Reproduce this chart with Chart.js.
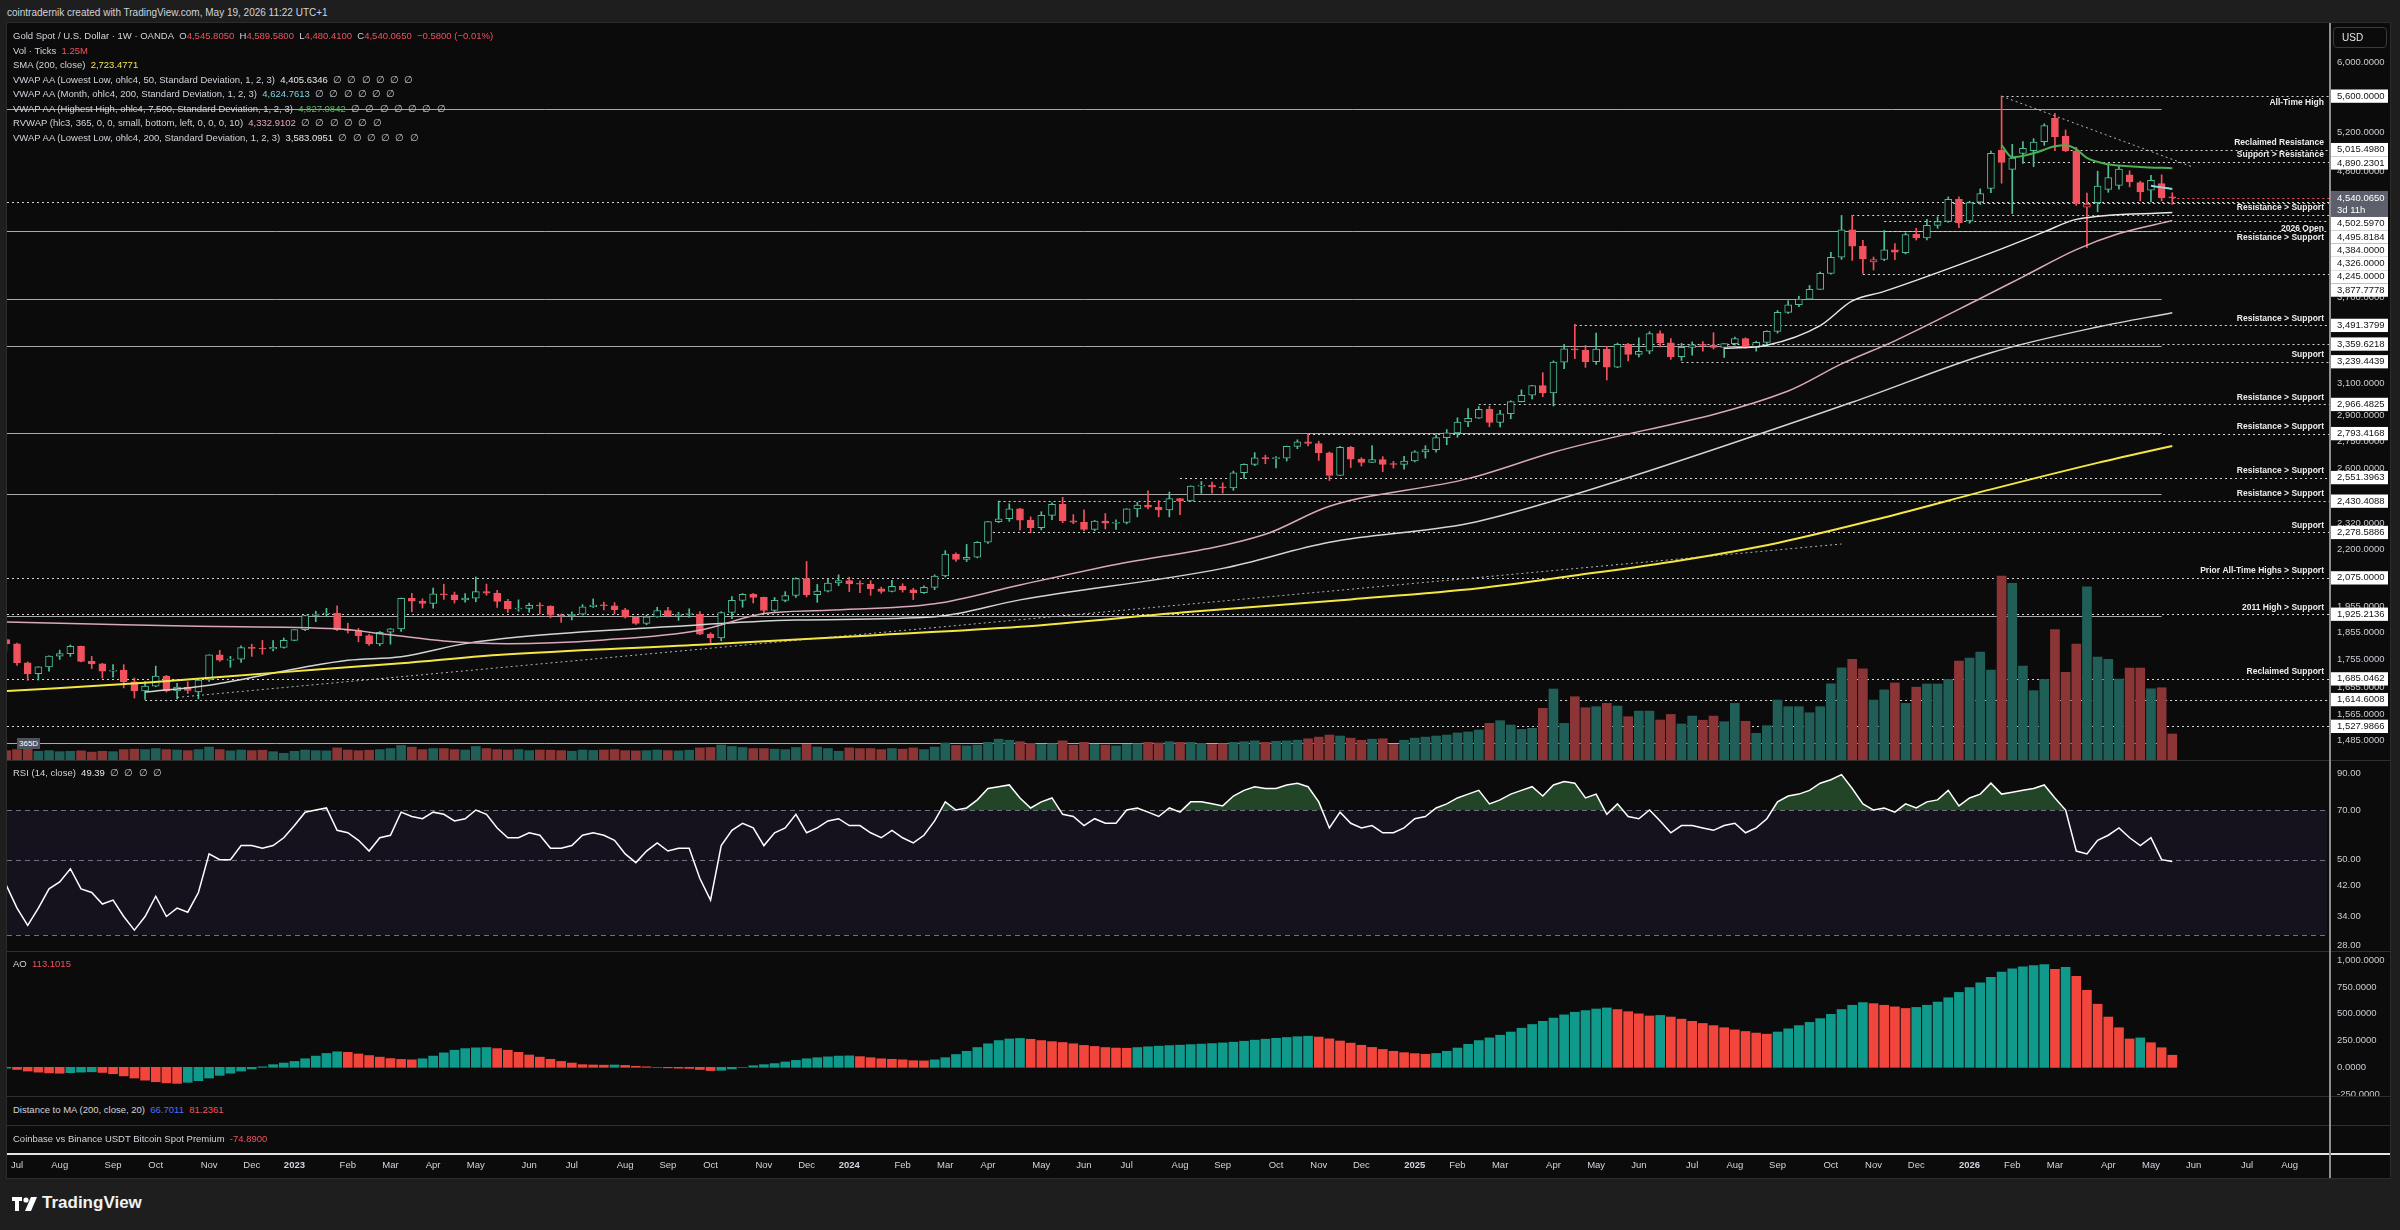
<!DOCTYPE html>
<html>
<head>
<meta charset="utf-8">
<title>Gold Spot / U.S. Dollar · 1W · OANDA</title>
<script src="https://cdn.jsdelivr.net/npm/chart.js@4.4.1/dist/chart.umd.min.js"></script>
<style>
  html, body { margin: 0; padding: 0; width: 2400px; height: 1230px; overflow: hidden; background: #1e1e1e; font-family: 'Liberation Sans', Arial, sans-serif; }
  #frame { position: absolute; left: 7px; top: 23px; width: 2383px; height: 1155px; background: #0b0b0b; outline: 1px solid #2c2c2c; }
  canvas { position: absolute; left: 7px; z-index: 1; }
  .sep { position: absolute; left: 7px; width: 2383px; height: 1px; background: #2e2e2e; z-index: 2; }
  .txt { position: absolute; left: 13px; font-size: 9.5px; line-height: 14px; color: #d1d4dc; white-space: nowrap; z-index: 3; }
  .r { color: #f2525e; }
  .w { color: #e6e6e6; }
  .n { color: #c4c7ce; }
</style>
</head>
<body>
<div id="frame"></div>

<div class="txt" style="left:7px;top:6px;font-size:10px;">cointradernik created with TradingView.com, May 19, 2026 11:22 UTC+1</div>
<div class="txt" style="top:29px;">Gold Spot / U.S. Dollar · 1W · OANDA&nbsp;&nbsp;O<span class="r">4,545.8050</span>&nbsp;&nbsp;H<span class="r">4,589.5800</span>&nbsp;&nbsp;L<span class="r">4,480.4100</span>&nbsp;&nbsp;C<span class="r">4,540.0650</span>&nbsp;&nbsp;<span class="r">−0.5800 (−0.01%)</span></div>
<div class="txt" style="top:44px;">Vol · Ticks&nbsp;&nbsp;<span class="r">1.25M</span></div>
<div class="txt" style="top:58px;">SMA (200, close)&nbsp;&nbsp;<span style="color:#f2e24f">2,723.4771</span></div>
<div class="txt" style="top:73px;">VWAP AA (Lowest Low, ohlc4, 50, Standard Deviation, 1, 2, 3)&nbsp;&nbsp;<span class="w">4,405.6346</span>&nbsp;&nbsp;<span class="n">∅&nbsp;&nbsp;∅&nbsp;&nbsp;∅&nbsp;&nbsp;∅&nbsp;&nbsp;∅&nbsp;&nbsp;∅</span></div>
<div class="txt" style="top:87px;">VWAP AA (Month, ohlc4, 200, Standard Deviation, 1, 2, 3)&nbsp;&nbsp;<span style="color:#7fd3e0">4,624.7613</span>&nbsp;&nbsp;<span class="n">∅&nbsp;&nbsp;∅&nbsp;&nbsp;∅&nbsp;&nbsp;∅&nbsp;&nbsp;∅&nbsp;&nbsp;∅</span></div>
<div class="txt" style="top:102px;">VWAP AA (Highest High, ohlc4, 7,500, Standard Deviation, 1, 2, 3)&nbsp;&nbsp;<span style="color:#5fb563">4,827.0842</span>&nbsp;&nbsp;<span class="n">∅&nbsp;&nbsp;∅&nbsp;&nbsp;∅&nbsp;&nbsp;∅&nbsp;&nbsp;∅&nbsp;&nbsp;∅&nbsp;&nbsp;∅</span></div>
<div class="txt" style="top:116px;">RVWAP (hlc3, 365, 0, 0, small, bottom, left, 0, 0, 0, 10)&nbsp;&nbsp;<span style="color:#e0a6bb">4,332.9102</span>&nbsp;&nbsp;<span class="n">∅&nbsp;&nbsp;∅&nbsp;&nbsp;∅&nbsp;&nbsp;∅&nbsp;&nbsp;∅&nbsp;&nbsp;∅</span></div>
<div class="txt" style="top:131px;">VWAP AA (Lowest Low, ohlc4, 200, Standard Deviation, 1, 2, 3)&nbsp;&nbsp;<span class="w">3,583.0951</span>&nbsp;&nbsp;<span class="n">∅&nbsp;&nbsp;∅&nbsp;&nbsp;∅&nbsp;&nbsp;∅&nbsp;&nbsp;∅&nbsp;&nbsp;∅</span></div>

<div class="txt" style="left:2333px;top:27px;width:44px;height:19px;line-height:19px;padding-left:8px;border:1px solid #3b3b3b;border-radius:4px;font-size:10px;color:#e6e6e6;">USD</div>
<div class="txt" style="left:17px;top:738px;line-height:11px;font-size:8px;padding:0 2px;background:#50535e;color:#fff;">365D</div>

<div class="txt" style="top:766px;">RSI (14, close)&nbsp;&nbsp;<span class="w">49.39</span>&nbsp;&nbsp;<span class="n">∅&nbsp;&nbsp;∅&nbsp;&nbsp;∅&nbsp;&nbsp;∅</span></div>
<div class="txt" style="top:957px;">AO&nbsp;&nbsp;<span class="r">113.1015</span></div>
<div class="txt" style="top:1103px;">Distance to MA (200, close, 20)&nbsp;&nbsp;<span style="color:#4f6ef7">66.7011</span>&nbsp;&nbsp;<span class="r">81.2361</span></div>
<div class="txt" style="top:1132px;">Coinbase vs Binance USDT Bitcoin Spot Premium&nbsp;&nbsp;<span class="r">-74.8900</span></div>

<canvas id="cMain" width="2383" height="737" style="top:23px;"></canvas>
<canvas id="cRsi" width="2383" height="191" style="top:760px;"></canvas>
<canvas id="cAo" width="2383" height="145" style="top:951px;"></canvas>
<canvas id="cTime" width="2383" height="53" style="top:1125px;"></canvas>

<div class="sep" style="top:760px;"></div>
<div class="sep" style="top:951px;"></div>
<div class="sep" style="top:1096px;"></div>
<div class="sep" style="top:1125px;"></div>
<div class="sep" style="top:1153px;height:2px;background:#e4e4e4;"></div>
<div style="position:absolute;left:2329px;top:23px;width:2px;height:1155px;background:#8f8f8f;z-index:2;"></div>

<svg style="position:absolute;left:12px;top:1195px;" width="30" height="18">
  <path d="M0 2h10v4H7v10H3V6H0z" fill="#fff"/>
  <circle cx="14" cy="5" r="2.6" fill="#fff"/>
  <path d="M19 2h6l-6 14h-6z" fill="#fff"/>
</svg>
<div class="txt" style="left:42px;top:1192px;font-size:17px;line-height:22px;font-weight:bold;color:#f2f2f2;">TradingView</div>

<script>
// Weekly bars, week 0 = Jul 4 2022, first visible bar is week -1
var FIRST_WEEK = -1;

var opens = [1827,
  1811,1742,1703,1727,1766,1775,1802,1747,1738,1712,
  1716,1675,1644,1660,1695,1644,1657,1640,1681,1771,
  1751,1755,1798,1794,1792,1798,1824,1865,1920,1926,
  1929,1865,1862,1842,1811,1855,1868,1989,1978,1969,
  2008,2004,1983,1990,2017,2011,1977,1946,1948,1961,
  1958,1921,1919,1925,1955,1962,1959,1943,1914,1889,
  1915,1940,1919,1924,1925,1848,1833,1932,1981,2006,
  1993,1940,1981,2001,2072,2004,2019,2053,2063,2050,
  2048,2029,2018,2039,2024,2013,2035,2083,2179,2155,
  2165,2233,2330,2344,2392,2337,2301,2360,2415,2334,
  2327,2293,2333,2322,2326,2392,2411,2400,2387,2443,
  2431,2507,2512,2503,2497,2577,2622,2658,2653,2656,
  2721,2747,2737,2685,2563,2716,2650,2633,2648,2622,
  2621,2640,2690,2703,2770,2798,2861,2883,2936,2858,
  2910,2984,3023,3084,3037,3237,3327,3319,3240,3325,
  3204,3357,3289,3310,3433,3368,3274,3337,3355,3350,
  3337,3363,3398,3336,3371,3448,3586,3643,3685,3760,
  3886,4018,4251,4110,3980,3999,4080,4055,4212,4182,
  4290,4325,4528,4330,4500,4630,5010,4815,4977,5004,
  5098,5349,5158,5004,4455,4497,4621,4660,4762,4686,
  4613,4676,4545.805];

var highs = [1830,
  1814,1745,1728,1767,1788,1807,1803,1765,1740,1735,
  1735,1688,1676,1730,1697,1670,1675,1682,1771,1787,
  1765,1804,1810,1824,1823,1833,1865,1921,1937,1949,
  1959,1890,1870,1847,1858,1870,1990,2010,1987,2032,
  2048,2015,2009,2079,2048,2022,1985,1983,1970,1971,
  1959,1926,1935,1964,1987,1974,1972,1949,1916,1922,
  1953,1953,1933,1947,1936,1853,1935,1997,2009,2010,
  1994,1993,2017,2075,2146,2047,2070,2088,2078,2062,
  2063,2036,2065,2050,2031,2041,2088,2195,2185,2223,
  2236,2330,2431,2417,2395,2353,2378,2422,2450,2364,
  2387,2336,2369,2339,2393,2424,2483,2433,2477,2445,
  2508,2531,2528,2524,2586,2625,2686,2672,2664,2722,
  2758,2790,2750,2690,2721,2721,2658,2726,2664,2638,
  2665,2697,2725,2786,2817,2886,2942,2954,2956,2930,
  2989,3057,3086,3167,3245,3357,3500,3350,3437,3344,
  3366,3365,3403,3446,3452,3398,3365,3375,3377,3439,
  3363,3409,3403,3379,3453,3600,3674,3707,3791,3897,
  4059,4379,4381,4160,4020,4245,4132,4225,4265,4344,
  4367,4550,4550,4510,4626,5000,5600,5070,5100,5130,
  5290,5404,5222,5040,4587,4797,4866,4851,4802,4700,
  4756,4762,4589.58];

var lows = [1784,
  1732,1680,1681,1712,1754,1765,1745,1721,1688,1691,
  1654,1620,1615,1658,1640,1617,1635,1617,1676,1747,
  1726,1743,1765,1773,1785,1795,1823,1861,1896,1917,
  1861,1852,1819,1805,1804,1810,1858,1935,1950,1949,
  1985,1970,1974,1975,2002,1952,1932,1937,1933,1925,
  1911,1893,1903,1922,1952,1942,1926,1910,1885,1884,
  1913,1915,1901,1913,1846,1810,1823,1908,1953,1970,
  1931,1932,1975,1993,1995,1973,2016,2042,2017,2013,
  2002,2010,2016,2015,1984,2010,2025,2079,2146,2146,
  2162,2228,2325,2331,2291,2277,2291,2340,2325,2320,
  2286,2286,2295,2293,2319,2353,2392,2353,2353,2364,
  2430,2470,2471,2471,2485,2547,2615,2625,2603,2640,
  2708,2724,2643,2536,2563,2605,2613,2632,2583,2602,
  2596,2635,2656,2688,2730,2772,2833,2882,2833,2832,
  2880,2982,3000,3015,2957,3194,3260,3202,3222,3120,
  3200,3245,3271,3293,3340,3255,3248,3283,3310,3325,
  3268,3352,3330,3311,3350,3436,3578,3628,3685,3760,
  3880,4000,3992,3886,3914,3990,3998,4045,4163,4163,
  4265,4318,4270,4310,4480,4590,4680,4396,4874,4842,
  5060,5004,4994,4470,4098,4412,4593,4624,4645,4512,
  4503,4512,4480.41];

var closes = [1811,
  1742,1703,1727,1766,1775,1802,1747,1738,1712,1716,
  1675,1644,1660,1695,1644,1657,1645,1681,1771,1751,
  1755,1797,1794,1792,1798,1824,1865,1920,1926,1929,
  1865,1862,1842,1811,1855,1868,1989,1978,1969,2008,
  2004,1983,1990,2017,2011,1977,1946,1948,1961,1958,
  1921,1919,1925,1955,1962,1959,1943,1914,1889,1915,
  1940,1919,1924,1925,1848,1833,1932,1981,2006,1993,
  1940,1981,2001,2072,2004,2019,2053,2063,2049,2048,
  2029,2018,2039,2024,2013,2035,2083,2179,2155,2165,
  2233,2330,2344,2392,2337,2301,2360,2415,2334,2327,
  2293,2333,2322,2326,2392,2411,2400,2387,2443,2431,
  2507,2512,2503,2497,2577,2622,2658,2653,2656,2721,
  2747,2737,2685,2563,2716,2650,2633,2648,2622,2621,
  2640,2690,2703,2770,2798,2861,2883,2936,2858,2910,
  2984,3023,3084,3037,3237,3327,3319,3240,3325,3204,
  3357,3289,3310,3433,3368,3274,3337,3355,3350,3337,
  3363,3398,3336,3371,3448,3586,3643,3685,3760,3886,
  4018,4251,4110,4004,3999,4080,4060,4210,4182,4290,
  4325,4528,4315,4497,4580,4977,4885,4930,5028,5093,
  5269,5151,5004,4490,4482,4653,4734,4818,4692,4597,
  4709,4540.645,4540.065];

// tick volume, millions
var volumes = [0.45,
  0.5,0.55,0.42,0.45,0.4,0.42,0.44,0.38,0.42,0.4,
  0.5,0.52,0.5,0.55,0.5,0.48,0.45,0.5,0.62,0.5,
  0.44,0.48,0.45,0.47,0.4,0.32,0.42,0.48,0.45,0.44,
  0.58,0.48,0.45,0.47,0.5,0.55,0.7,0.62,0.5,0.55,
  0.55,0.5,0.48,0.65,0.55,0.5,0.48,0.5,0.45,0.48,
  0.47,0.45,0.42,0.48,0.46,0.48,0.5,0.45,0.44,0.45,
  0.48,0.45,0.44,0.47,0.58,0.6,0.72,0.65,0.6,0.55,
  0.55,0.52,0.5,0.6,0.75,0.62,0.55,0.42,0.58,0.55,
  0.55,0.5,0.55,0.52,0.58,0.5,0.62,0.82,0.7,0.68,
  0.72,0.85,1.0,0.95,0.88,0.8,0.75,0.78,0.92,0.72,
  0.85,0.75,0.72,0.68,0.75,0.78,0.85,0.82,0.88,0.85,
  0.85,0.8,0.75,0.78,0.85,0.88,0.92,0.85,0.9,0.92,
  0.95,1.02,1.1,1.2,1.15,1.05,0.95,1.0,1.02,0.75,
  0.95,1.05,1.1,1.15,1.2,1.3,1.35,1.44,1.76,1.89,
  1.68,1.47,1.52,2.48,3.41,1.76,3.04,2.51,2.56,2.72,
  2.59,2.08,2.35,2.35,1.92,2.19,1.73,2.11,1.91,2.11,
  1.84,2.72,1.86,1.28,1.65,2.88,2.56,2.56,2.27,2.56,
  3.66,4.43,4.83,4.38,2.88,3.37,3.70,2.72,3.50,3.65,
  3.65,3.87,4.75,4.90,5.18,4.32,8.83,8.48,4.51,3.33,
  3.87,6.27,4.21,5.57,8.32,4.94,4.83,3.89,4.42,4.42,
  3.42,3.47,1.25];

var rsiValues = [42,
  36,32,36,41,43,47,41,40,37,38,
  34,31,34,39,34,36,35,40,52,50,
  50,55,55,54,55,58,63,69,70,71,
  61,60,57,53,58,59,69,67,66,69,
  68,65,66,70,68,62,58,58,60,59,
  54,54,55,59,60,59,57,52,49,53,
  56,53,54,54,44,38,55,61,64,62,
  55,60,62,68,60,62,65,66,63,63,
  60,58,61,58,56,59,65,74,70,71,
  75,81,82,83,76,71,74,76,68,67,
  63,66,64,64,70,71,69,67,71,69,
  74,74,73,72,77,80,82,81,81,83,
  84,82,74,62,69,64,62,63,60,60,
  62,66,67,71,73,76,78,80,73,75,
  78,80,82,77,83,85,84,76,78,68,
  73,67,66,70,65,60,63,63,62,61,
  63,64,60,62,66,74,77,78,80,84,
  86,89,81,73,70,71,69,73,71,74,
  75,80,72,76,78,84,78,79,80,81,
  83,76,70,53,52,57,59,62,58,55,
  58,50,49.39];

var aoValues = [-8,
  -20,-35,-45,-52,-55,-50,-45,-42,-48,-60,
  -80,-100,-120,-135,-145,-150,-140,-125,-100,-75,
  -55,-35,-15,5,25,40,55,80,105,130,
  145,140,125,110,95,82,74,70,80,105,
  135,160,175,182,185,175,160,140,115,95,
  75,55,40,25,22,20,22,18,10,5,
  0,-5,-8,-10,-20,-30,-28,-15,0,15,
  25,35,50,65,80,90,98,105,107,100,
  90,80,75,70,62,60,70,90,120,150,
  185,220,250,265,270,262,250,240,232,220,
  205,195,185,180,178,185,192,198,203,207,
  212,217,222,228,235,244,254,263,271,279,
  286,291,283,266,246,226,206,186,167,150,
  137,128,122,130,150,180,215,250,275,300,
  330,365,400,430,460,490,515,530,545,555,
  540,520,500,480,485,470,450,430,410,390,
  370,350,335,320,310,330,360,390,420,455,
  495,540,580,605,595,580,565,550,560,580,
  610,650,700,745,790,840,890,920,940,950,
  960,915,935,850,720,590,470,370,265,275,
  230,183,113.1015];

// indicator lines read at chosen weeks
var smaX = [-1, 12, 24, 36, 45, 64, 80, 94, 110, 125, 137, 146, 156, 165, 175, 185, 195, 202];
var smaY = [1643, 1672, 1706, 1740, 1770, 1808, 1843, 1876, 1935, 1985, 2031, 2085, 2152, 2230, 2350, 2490, 2630, 2723.4771];
var rvwapX = [-1, 8, 17, 30, 35, 40, 46, 55, 64, 70, 76, 86, 94, 102, 117, 123, 136, 144, 166, 171, 176, 184, 188, 193, 197, 202];
var rvwapY = [1895, 1886, 1878, 1868, 1845, 1822, 1812, 1826, 1863, 1928, 1941, 1967, 2045, 2124, 2270, 2405, 2546, 2688, 3050, 3225, 3382, 3690, 3859, 4081, 4219, 4332.9102];
var ll200X = [12, 18, 27, 31, 36, 42, 47, 61, 73, 86, 94, 113, 123, 136, 144, 172, 185, 195, 202];
var ll200Y = [1640, 1663, 1727, 1751, 1764, 1812, 1837, 1876, 1902, 1915, 1983, 2116, 2233, 2321, 2432, 2980, 3300, 3480, 3583.0951];
var ll50X = [160, 164, 169, 172, 175, 185, 190, 193, 202];
var ll50Y = [3330, 3352, 3490, 3672, 3745, 4054, 4233, 4344, 4405.6346];
var hhX = [186, 187, 189, 191, 192, 193, 194, 196, 199, 202];
var hhY = [5062, 4937, 4978, 5050, 5062, 5020, 4930, 4866, 4840, 4827.0842];
var monthX = [200, 201, 202];
var monthY = [4655, 4640, 4624.7613];
var trendUpX = [15, 171], trendUpY = [1622, 2225];
var trendDownX = [186, 204], trendDownY = [5600, 4836];

// horizontal levels
var levelValues = [5600, 5015.498, 4890.2301, 4502.597, 4495.8184, 4384, 4326, 4245, 3877.7778, 3491.3799, 3359.6218, 3239.4439, 2966.4825, 2793.4168, 2551.3963, 2430.4088, 2278.5886, 2075, 1925.2136, 1685.0462, 1614.6008, 1527.9866];
var levelStart = [186, 192, 188, -2, 181, 172, 175, 175, 173, 146, 150, 156, 137, 121, 109, 92, 91, -2, -2, -2, 12, -2];
var levelNames = ['All-Time High', 'Reclaimed Resistance', 'Support > Resistance', '', '', 'Resistance > Support', '2026 Open', 'Resistance > Support', '', 'Resistance > Support', '', 'Support', 'Resistance > Support', 'Resistance > Support', 'Resistance > Support', 'Resistance > Support', 'Support', 'Prior All-Time Highs > Support', '2011 High > Support', 'Reclaimed Support', '', ''];
var levelNameSide = [1, -1, -1, 0, 0, -1, 1, 1, 0, -1, 0, -1, -1, -1, -1, -1, -1, -1, -1, -1, 0, 0];
var solidLevels = [5449, 4241, 3683, 3349, 2798, 2465, 1920, 1475];
var solidEndWeek = 201;
var countdownText = '3d 11h';

// axis ticks
var priceTicks = [6000, 5200, 4800, 3700, 3100, 2900, 2750, 2600, 2320, 2200, 1955, 1855, 1755, 1655, 1565, 1485];
var rsiTicks = [90, 70, 50, 42, 34, 28];
var rsiBandLevels = [70, 50, 30];
var aoTicks = [1000, 750, 500, 250, 0, -250];
var monthTickWeeks = [0,4,9,13,18,22,26,31,35,39,43,48,52,57,61,65,70,74,78,83,87,91,96,100,104,109,113,118,122,126,131,135,139,144,148,152,157,161,165,170,174,178,183,187,191,196,200,204,209,213];
var monthTickLabels = ['Jul','Aug','Sep','Oct','Nov','Dec','2023','Feb','Mar','Apr','May','Jun','Jul','Aug','Sep','Oct','Nov','Dec','2024','Feb','Mar','Apr','May','Jun','Jul','Aug','Sep','Oct','Nov','Dec','2025','Feb','Mar','Apr','May','Jun','Jul','Aug','Sep','Oct','Nov','Dec','2026','Feb','Mar','Apr','May','Jun','Jul','Aug'];


Chart.defaults.font.family = "'Liberation Sans', Arial, sans-serif";
Chart.defaults.font.size = 9.5;
Chart.defaults.color = '#d1d4dc';
Chart.defaults.animation = false;
Chart.defaults.plugins.legend.display = false;
Chart.defaults.plugins.tooltip.enabled = false;

var X_MIN = -0.94, X_MAX = 216.78;
var UP = '#4fbf98', DOWN = '#f2525e', BG = '#0b0b0b';

var weeks = opens.map(function (_, k) { return FIRST_WEEK + k; });
var lastClose = closes[closes.length - 1];

// hollow candles: colour vs previous close, hollow when close > open
var candleColor = closes.map(function (c, k) {
    var ref = k === 0 ? opens[k] : closes[k - 1];
    return c >= ref ? UP : DOWN;
});
var bodyFill = closes.map(function (c, k) { return c > opens[k] ? BG : candleColor[k]; });
var volColor = closes.map(function (c, k) { return c >= opens[k] ? '#1f5f58' : '#8b3536'; });
var aoColor = aoValues.map(function (v, k) { return (k === 0 || v >= aoValues[k - 1]) ? '#0f9a8b' : '#f2463c'; });

function fmt4(v) {
    return Number(v).toLocaleString('en-US', { minimumFractionDigits: 4, maximumFractionDigits: 4 });
}
function pts(xs, ys) {
    return xs.map(function (x, k) { return { x: x, y: ys[k] }; });
}
function hiddenX() {
    return { type: 'linear', display: false, min: X_MIN, max: X_MAX, offset: false };
}
function fixedRight(s) {
    s.width = 60; s.paddingTop = 0; s.paddingBottom = 0;
}
function lineDs(xs, ys, color, width, order, extra) {
    return Object.assign({
        type: 'line', data: pts(xs, ys), yAxisID: 'y',
        borderColor: color, borderWidth: width, pointRadius: 0,
        cubicInterpolationMode: 'monotone', order: order
    }, extra || {});
}

var levelsPlugin = {
    id: 'levels',
    beforeDatasetsDraw: function (chart) {
        var ctx = chart.ctx, a = chart.chartArea, x = chart.scales.x, y = chart.scales.y;
        ctx.save();
        ctx.beginPath();
        ctx.rect(a.left, a.top, a.right - a.left, a.bottom - a.top);
        ctx.clip();
        ctx.lineWidth = 1;
        ctx.strokeStyle = '#a9a9a9';
        var xEnd = x.getPixelForValue(solidEndWeek);
        solidLevels.forEach(function (v) {
            var py = Math.round(y.getPixelForValue(v)) + 0.5;
            ctx.beginPath(); ctx.moveTo(a.left, py); ctx.lineTo(xEnd, py); ctx.stroke();
        });
        ctx.setLineDash([2, 3]);
        ctx.strokeStyle = '#d6d6d6';
        levelValues.forEach(function (v, k) {
            var py = Math.round(y.getPixelForValue(v)) + 0.5;
            var sx = Math.max(a.left, x.getPixelForValue(levelStart[k]));
            ctx.beginPath(); ctx.moveTo(sx, py); ctx.lineTo(a.right, py); ctx.stroke();
        });
        // current price line
        ctx.strokeStyle = DOWN;
        var pc = Math.round(y.getPixelForValue(lastClose)) + 0.5;
        ctx.beginPath(); ctx.moveTo(x.getPixelForValue(weeks[weeks.length - 1]), pc); ctx.lineTo(a.right, pc); ctx.stroke();
        ctx.restore();
    },
    afterDatasetsDraw: function (chart) {
        var ctx = chart.ctx, a = chart.chartArea, y = chart.scales.y;
        ctx.save();
        ctx.font = "bold 8.5px 'Liberation Sans', Arial, sans-serif";
        ctx.textAlign = 'right';
        ctx.textBaseline = 'middle';
        ctx.fillStyle = '#eeeeee';
        levelNames.forEach(function (t, k) {
            if (!t) return;
            var py = y.getPixelForValue(levelValues[k]);
            ctx.fillText(t, a.right - 6, py + levelNameSide[k] * 7);
        });
        ctx.restore();
    },
    afterDraw: function (chart) {
        // price-axis labels of the levels, pushed apart like the original
        var ctx = chart.ctx, a = chart.chartArea, y = chart.scales.y;
        var items = levelValues.map(function (v) { return { v: v, py: y.getPixelForValue(v), h: 13.3, cur: false }; });
        items.push({ v: lastClose, py: y.getPixelForValue(lastClose), h: 26, cur: true });
        items.sort(function (p, q) { return p.py - q.py; });
        var bottom = -1e9;
        ctx.save();
        ctx.font = "9.5px 'Liberation Sans', Arial, sans-serif";
        ctx.textAlign = 'left';
        ctx.textBaseline = 'middle';
        items.forEach(function (it) {
            var top = it.cur ? it.py - 7 : it.py - it.h / 2;
            if (top < bottom) top = bottom;
            bottom = top + it.h;
            ctx.fillStyle = it.cur ? '#5d606b' : '#ffffff';
            ctx.fillRect(a.right + 1, top, 57, it.h);
            ctx.fillStyle = it.cur ? '#ffffff' : '#131313';
            ctx.fillText(fmt4(it.v), a.right + 7, top + (it.cur ? 7 : it.h / 2));
            if (it.cur) ctx.fillText(countdownText, a.right + 7, top + 19);
        });
        ctx.restore();
    }
};

var rsiBand = {
    id: 'rsiBand',
    beforeDatasetsDraw: function (chart) {
        var ctx = chart.ctx, a = chart.chartArea, y = chart.scales.y;
        var yTop = y.getPixelForValue(rsiBandLevels[0]), yBot = y.getPixelForValue(rsiBandLevels[2]);
        ctx.save();
        ctx.fillStyle = 'rgba(126,87,194,0.10)';
        ctx.fillRect(a.left, yTop, a.right - a.left - 3, yBot - yTop);
        ctx.setLineDash([5, 4]);
        ctx.strokeStyle = '#6f727c';
        ctx.lineWidth = 1;
        rsiBandLevels.forEach(function (v) {
            var py = Math.round(y.getPixelForValue(v)) + 0.5;
            ctx.beginPath(); ctx.moveTo(a.left, py); ctx.lineTo(a.right - 3, py); ctx.stroke();
        });
        ctx.restore();
    }
};

// Main pane: candles, volume, averages, levels
new Chart(document.getElementById('cMain'), {
    type: 'bar',
    data: {
        datasets: [
            { type: 'bar', data: weeks.map(function (w, k) { return { x: w, y: volumes[k] }; }), yAxisID: 'yv',
              backgroundColor: volColor, barThickness: 9, grouped: false, order: 20 },
            { type: 'bar', data: weeks.map(function (w, k) { return { x: w, y: [lows[k], highs[k]] }; }), yAxisID: 'y',
              backgroundColor: candleColor, barThickness: 1, grouped: false, order: 19 },
            { type: 'bar', data: weeks.map(function (w, k) { return { x: w, y: [opens[k], closes[k]] }; }), yAxisID: 'y',
              backgroundColor: bodyFill, borderColor: candleColor, borderWidth: 1, borderSkipped: false,
              barThickness: 7, minBarLength: 1, grouped: false, order: 18 },
            lineDs(trendUpX, trendUpY, '#b5b5b5', 1, 9, { borderDash: [2, 3], cubicInterpolationMode: 'default', tension: 0 }),
            lineDs(trendDownX, trendDownY, '#b5b5b5', 1, 9, { borderDash: [2, 3], cubicInterpolationMode: 'default', tension: 0 }),
            lineDs(ll200X, ll200Y, '#d4d4d4', 1.5, 6),
            lineDs(rvwapX, rvwapY, '#d9a8ba', 1.5, 5),
            lineDs(ll50X, ll50Y, '#e6e6e6', 1.5, 4),
            lineDs(smaX, smaY, '#f5e643', 2, 3),
            lineDs(hhX, hhY, '#4caf50', 2, 2),
            lineDs(monthX, monthY, '#80deea', 2, 1)
        ]
    },
    options: {
        responsive: false,
        layout: { padding: 0 },
        scales: {
            x: hiddenX(),
            y: {
                type: 'logarithmic', position: 'right', min: 1425.6, max: 6511,
                grid: { display: false, drawTicks: false }, border: { display: false },
                afterFit: fixedRight,
                afterBuildTicks: function (s) { s.ticks = priceTicks.map(function (v) { return { value: v }; }); },
                ticks: { autoSkip: false, padding: 7, color: '#c9ccd3', callback: function (v) { return fmt4(v); } }
            },
            yv: { type: 'linear', display: false, min: 0, max: 35.4 }
        }
    },
    plugins: [levelsPlugin]
});

// RSI pane
new Chart(document.getElementById('cRsi'), {
    type: 'line',
    data: {
        datasets: [{
            data: weeks.map(function (w, k) { return { x: w, y: rsiValues[k] }; }),
            borderColor: '#ffffff', borderWidth: 1.5, pointRadius: 0,
            fill: { target: { value: 70 }, above: 'rgba(60,140,70,0.45)', below: 'rgba(0,0,0,0)' }
        }]
    },
    options: {
        responsive: false,
        layout: { padding: 0 },
        scales: {
            x: hiddenX(),
            y: {
                type: 'logarithmic', position: 'right', min: 26.9, max: 98.3,
                grid: { display: false, drawTicks: false }, border: { display: false },
                afterFit: fixedRight,
                afterBuildTicks: function (s) { s.ticks = rsiTicks.map(function (v) { return { value: v }; }); },
                ticks: { autoSkip: false, padding: 7, color: '#c9ccd3', callback: function (v) { return Number(v).toFixed(2); } }
            }
        }
    },
    plugins: [rsiBand]
});

// Awesome Oscillator pane
new Chart(document.getElementById('cAo'), {
    type: 'bar',
    data: {
        datasets: [{
            data: weeks.map(function (w, k) { return { x: w, y: aoValues[k] }; }),
            backgroundColor: aoColor, barThickness: 9, grouped: false
        }]
    },
    options: {
        responsive: false,
        layout: { padding: 0 },
        scales: {
            x: hiddenX(),
            y: {
                type: 'linear', position: 'right', min: -268, max: 1087,
                grid: { display: false, drawTicks: false }, border: { display: false },
                afterFit: fixedRight,
                afterBuildTicks: function (s) { s.ticks = aoTicks.map(function (v) { return { value: v }; }); },
                ticks: { autoSkip: false, padding: 7, color: '#c9ccd3', callback: function (v) { return fmt4(v); } }
            }
        }
    }
});

// last pane + time axis
new Chart(document.getElementById('cTime'), {
    type: 'line',
    data: { datasets: [] },
    options: {
        responsive: false,
        layout: { padding: { left: 0, right: 60, top: 0, bottom: 0 } },
        scales: {
            x: {
                type: 'linear', position: 'bottom', min: X_MIN, max: X_MAX, offset: false,
                grid: { display: false, drawTicks: false }, border: { display: false },
                afterFit: function (s) { s.height = 24; s.paddingLeft = 0; s.paddingRight = 0; },
                afterBuildTicks: function (s) { s.ticks = monthTickWeeks.map(function (v) { return { value: v }; }); },
                ticks: {
                    autoSkip: false, maxRotation: 0, padding: 6, color: '#d1d4dc',
                    callback: function (v, i) { return monthTickLabels[i]; },
                    font: function (c) { return { weight: /^\d{4}$/.test(monthTickLabels[c.index] || '') ? 'bold' : 'normal' }; }
                }
            },
            y: { display: false, min: 0, max: 1 }
        }
    }
});
</script>
</body>
</html>
